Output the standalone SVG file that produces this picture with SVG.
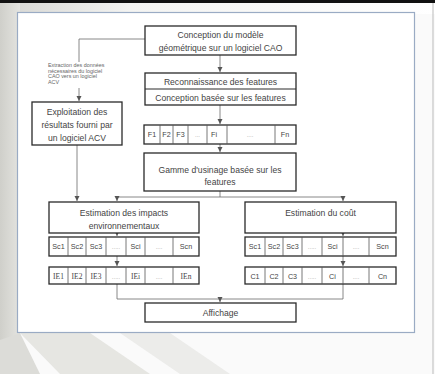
<svg xmlns="http://www.w3.org/2000/svg" width="435" height="374" viewBox="0 0 435 374">
<defs>
<linearGradient id="lg" x1="0" y1="0" x2="1" y2="0">
<stop offset="0" stop-color="#cfcfca"/><stop offset="1" stop-color="#e4e4e0"/>
</linearGradient>
<linearGradient id="tg" x1="0" y1="0" x2="1" y2="0">
<stop offset="0" stop-color="#d6d6d2"/><stop offset="0.3" stop-color="#f4f4f2"/><stop offset="1" stop-color="#ffffff"/>
</linearGradient>
<marker id="ah" markerWidth="6" markerHeight="6" refX="5" refY="3" orient="auto" markerUnits="userSpaceOnUse">
<path d="M0,0.5 L5,3 L0,5.5 Z" fill="#555"/>
</marker>
</defs>
<style>
.box{fill:#fff;stroke:#2a2a2a;stroke-width:1.3}
.cell{fill:none;stroke:#555;stroke-width:0.8}
.con{fill:none;stroke:#6a6a6a;stroke-width:0.8}
.t{font-family:"Liberation Sans",Arial,sans-serif;font-size:8.6px;fill:#444;text-anchor:middle}
.c{font-family:"Liberation Sans",Arial,sans-serif;font-size:7.2px;fill:#444;text-anchor:middle}
.cs{font-family:"Liberation Serif","Times New Roman",serif;font-size:7.5px;fill:#444;text-anchor:middle}
.d{font-family:"Liberation Sans",Arial,sans-serif;font-size:6px;fill:#999;text-anchor:middle}
.lab{font-family:"Liberation Sans",Arial,sans-serif;font-size:5.4px;fill:#666}
</style>
<!-- background -->
<rect x="0" y="0" width="435" height="374" fill="#fafafa"/>
<rect x="0" y="0" width="435" height="14" fill="url(#tg)"/>
<rect x="0" y="0" width="20" height="374" fill="url(#lg)"/>
<polygon points="20,333 90,333 150,374 60,374" fill="#e6e6e2"/>
<polygon points="120,333 170,333 230,374 180,374" fill="#ececea"/>
<polygon points="0,340 20,333 40,374 0,374" fill="#dcdcd8"/>
<rect x="0" y="0" width="435" height="3" fill="#111"/>
<line x1="433" y1="3" x2="433" y2="374" stroke="#bbb" stroke-width="1"/>
<!-- frame -->
<rect x="17.5" y="12.5" width="397" height="320" fill="#fff" stroke="#9aabc4" stroke-width="1.2"/>

<g id="connectors">
<path class="con" d="M145,39 H79 V62"/>
<path class="con" d="M79,88 V101" marker-end="url(#ah)"/>
<path class="con" d="M220,55 V72" marker-end="url(#ah)"/>
<path class="con" d="M220,105 V124" marker-end="url(#ah)"/>
<path class="con" d="M220,144 V152" marker-end="url(#ah)"/>
<path class="con" d="M220,191 V197 M117,197 H343"/>
<path class="con" d="M117,197 V201" marker-end="url(#ah)"/>
<path class="con" d="M343,197 V201" marker-end="url(#ah)"/>
<path class="con" d="M77,145 V201" marker-end="url(#ah)"/>
<path class="con" d="M117,233 V236" marker-end="url(#ah)"/>
<path class="con" d="M117,256 V266" marker-end="url(#ah)"/>
<path class="con" d="M343,233 V236" marker-end="url(#ah)"/>
<path class="con" d="M343,256 V266" marker-end="url(#ah)"/>
<path class="con" d="M117,284 V299 H343 V284"/>
<path class="con" d="M220,299 V302" marker-end="url(#ah)"/>
<text class="lab" x="48" y="67">Extraction des données</text>
<text class="lab" x="48" y="72.5">nécessaires du logiciel</text>
<text class="lab" x="48" y="78">CAO  vers un logiciel</text>
<text class="lab" x="48" y="83.5">ACV</text>
</g>

<g id="cao">
<rect class="box" x="145" y="26" width="151" height="29"/>
<text class="t" x="220.5" y="38">Conception du modèle</text>
<text class="t" x="220.5" y="51">géométrique sur un logiciel CAO</text>
</g>

<g id="features">
<rect class="box" x="145" y="73" width="151" height="32"/>
<line x1="145" y1="89" x2="296" y2="89" stroke="#2a2a2a" stroke-width="1"/>
<text class="t" x="220.5" y="85">Reconnaissance des features</text>
<text class="t" x="220.5" y="100.5">Conception basée sur les features</text>
</g>

<g id="exploitation">
<rect class="box" x="32" y="102" width="90" height="43"/>
<text class="t" x="77" y="115">Exploitation des</text>
<text class="t" x="77" y="128">résultats fourni par</text>
<text class="t" x="77" y="140.5">un logiciel ACV</text>
</g>

<g id="frow">
<rect class="box" x="144" y="125" width="152" height="19"/>
<path class="cell" d="M160,125V144 M173,125V144 M188,125V144 M207,125V144 M227,125V144 M275,125V144"/>
<text class="c" x="152" y="137">F1</text>
<text class="c" x="166.5" y="137">F2</text>
<text class="c" x="180.5" y="137">F3</text>
<text class="d" x="197.5" y="137">...</text>
<text class="c" x="214" y="137">Fi</text>
<text class="d" x="250" y="137">....</text>
<text class="c" x="285" y="137">Fn</text>
</g>

<g id="gamme">
<rect class="box" x="144" y="153" width="152" height="38"/>
<text class="t" x="220" y="172.5">Gamme d'usinage basée sur les</text>
<text class="t" x="220" y="185">features</text>
</g>

<g id="impacts">
<rect class="box" x="49" y="202" width="150" height="31"/>
<text class="t" x="124" y="216">Estimation des impacts</text>
<text class="t" x="124" y="228.5">environnementaux</text>
</g>

<g id="cout">
<rect class="box" x="245" y="202" width="151" height="31"/>
<text class="t" x="320.5" y="216">Estimation du coût</text>
</g>

<g id="sc-left">
<rect class="box" x="49" y="237" width="150" height="19"/>
<path class="cell" d="M68,237V256 M86,237V256 M106,237V256 M126,237V256 M145,237V256 M173,237V256"/>
<text class="c" x="58.5" y="249">Sc1</text>
<text class="c" x="77" y="249">Sc2</text>
<text class="c" x="96" y="249">Sc3</text>
<text class="d" x="116" y="249">.....</text>
<text class="c" x="135.5" y="249">Sci</text>
<text class="d" x="159" y="249">....</text>
<text class="c" x="186" y="249">Scn</text>
</g>

<g id="ie">
<rect class="box" x="49" y="267" width="150" height="17"/>
<path class="cell" d="M68,267V284 M86,267V284 M106,267V284 M126,267V284 M145,267V284 M173,267V284"/>
<text class="cs" x="58.5" y="278.5">IE1</text>
<text class="cs" x="77" y="278.5">IE2</text>
<text class="cs" x="96" y="278.5">IE3</text>
<text class="d" x="116" y="278.5">.....</text>
<text class="cs" x="135.5" y="278.5">IEi</text>
<text class="d" x="159" y="278.5">....</text>
<text class="cs" x="186" y="278.5" fill="#4a5a3a">IEn</text>
</g>

<g id="sc-right">
<rect class="box" x="245" y="237" width="151" height="19"/>
<path class="cell" d="M265,237V256 M283,237V256 M302,237V256 M322,237V256 M343,237V256 M369,237V256"/>
<text class="c" x="255" y="249">Sc1</text>
<text class="c" x="274" y="249">Sc2</text>
<text class="c" x="292.5" y="249">Sc3</text>
<text class="d" x="312" y="249">.....</text>
<text class="c" x="332.5" y="249">Sci</text>
<text class="d" x="356" y="249">....</text>
<text class="c" x="382.5" y="249">Scn</text>
</g>

<g id="c-row">
<rect class="box" x="245" y="267" width="151" height="17"/>
<path class="cell" d="M265,267V284 M283,267V284 M302,267V284 M322,267V284 M343,267V284 M369,267V284"/>
<text class="c" x="255" y="278.5">C1</text>
<text class="c" x="274" y="278.5">C2</text>
<text class="c" x="292.5" y="278.5">C3</text>
<text class="d" x="312" y="278.5">.....</text>
<text class="c" x="332.5" y="278.5">Ci</text>
<text class="d" x="356" y="278.5">....</text>
<text class="c" x="382.5" y="278.5">Cn</text>
</g>

<g id="affichage">
<rect class="box" x="145" y="303" width="151" height="19"/>
<text class="t" x="220.5" y="315.5">Affichage</text>
</g>
</svg>
